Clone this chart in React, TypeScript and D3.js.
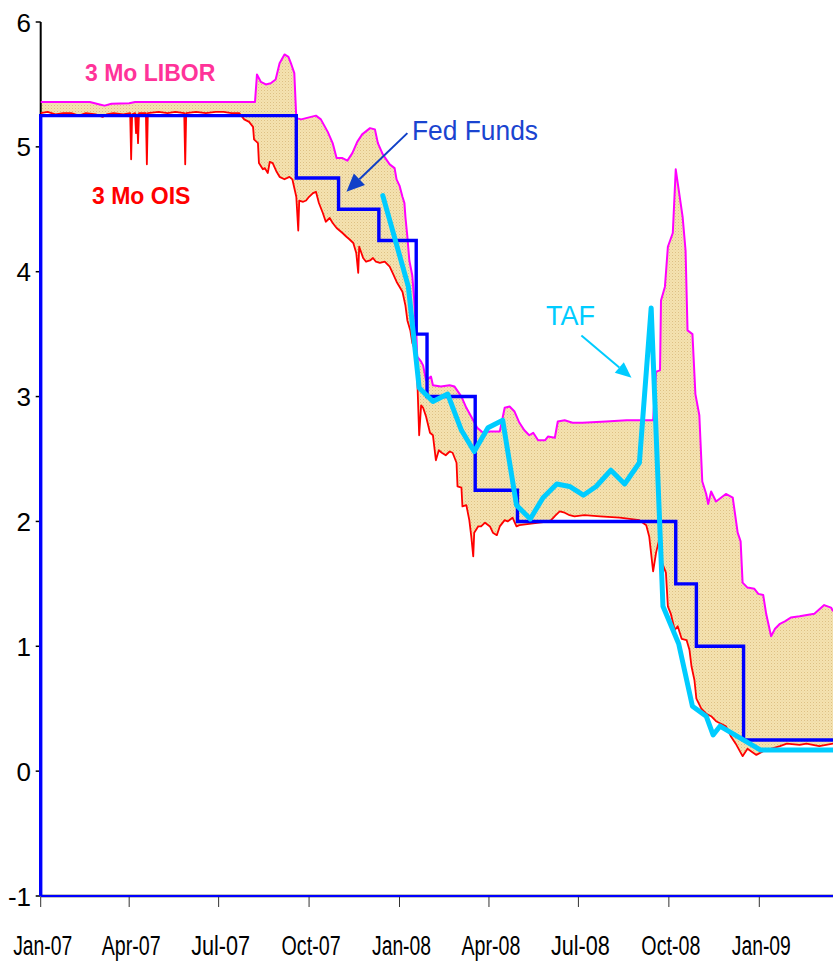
import React from "react";
import * as d3 from "d3";

type P = [string, number];

const liborData: P[] = [
  ["2007-01-01",5.36],["2007-02-20",5.36],["2007-03-02",5.34],["2007-03-07",5.33],["2007-03-14",5.345],["2007-04-01",5.35],["2007-04-07",5.36],["2007-08-07",5.36],
  ["2007-08-09",5.58],["2007-08-13",5.52],["2007-08-18",5.50],["2007-08-23",5.51],["2007-08-28",5.54],["2007-09-01",5.67],["2007-09-06",5.74],["2007-09-10",5.72],["2007-09-13",5.66],["2007-09-16",5.59],
  ["2007-09-18",5.23],["2007-09-23",5.22],["2007-09-28",5.23],["2007-10-08",5.25],["2007-10-13",5.22],["2007-10-20",5.12],["2007-10-25",5.03],["2007-10-29",4.91],["2007-11-04",4.91],["2007-11-09",4.89],
  ["2007-11-14",4.95],["2007-11-19",5.04],["2007-11-24",5.10],["2007-12-02",5.15],["2007-12-07",5.14],["2007-12-10",5.03],["2007-12-15",4.94],["2007-12-22",4.86],["2007-12-27",4.83],["2007-12-29",4.74],
  ["2008-01-01",4.69],["2008-01-04",4.60],["2008-01-06",4.55],["2008-01-07",4.44],["2008-01-09",4.28],["2008-01-11",4.09],["2008-01-14",3.97],["2008-01-16",3.77],["2008-01-18",3.53],["2008-01-19",3.32],
  ["2008-01-23",3.28],["2008-01-25",3.25],["2008-01-28",3.13],["2008-02-02",3.16],["2008-02-04",3.09],["2008-02-12",3.08],["2008-02-21",3.09],["2008-02-26",3.08],["2008-03-04",3.00],["2008-03-09",2.91],
  ["2008-03-16",2.81],["2008-03-20",2.75],["2008-03-26",2.71],["2008-04-02",2.72],["2008-04-12",2.72],["2008-04-17",2.91],["2008-04-22",2.92],["2008-04-27",2.88],["2008-05-02",2.79],["2008-05-07",2.73],
  ["2008-05-12",2.69],["2008-05-16",2.71],["2008-05-21",2.65],["2008-05-28",2.65],["2008-05-31",2.68],["2008-06-07",2.67],["2008-06-10",2.80],["2008-06-17",2.81],["2008-06-25",2.79],["2008-07-05",2.79],
  ["2008-07-29",2.80],["2008-08-19",2.81],["2008-09-15",2.81],["2008-09-18",3.20],["2008-09-22",3.21],["2008-09-23",3.77],["2008-09-27",3.88],["2008-09-30",4.20],["2008-10-05",4.31],["2008-10-08",4.82],
  ["2008-10-15",4.44],["2008-10-18",4.17],["2008-10-20",3.53],["2008-10-25",3.50],["2008-10-28",3.02],["2008-11-01",2.85],["2008-11-04",2.32],["2008-11-08",2.22],["2008-11-10",2.14],["2008-11-13",2.24],
  ["2008-11-18",2.16],["2008-11-28",2.22],["2008-12-05",2.19],["2008-12-10",1.91],["2008-12-13",1.84],["2008-12-15",1.51],["2008-12-20",1.47],["2008-12-27",1.46],["2008-12-31",1.42],["2009-01-05",1.41],
  ["2009-01-08",1.26],["2009-01-13",1.08],["2009-01-17",1.14],["2009-01-22",1.18],["2009-01-27",1.20],["2009-02-02",1.23],["2009-02-11",1.24],["2009-02-26",1.26],["2009-03-08",1.33],["2009-03-15",1.31],["2009-03-17",1.28],
];

const oisData: P[] = [
  ["2007-01-01",5.27],["2007-01-08",5.28],["2007-01-16",5.26],["2007-01-24",5.27],["2007-02-01",5.27],["2007-02-09",5.25],["2007-02-16",5.27],["2007-02-26",5.26],["2007-03-05",5.24],["2007-03-09",5.26],
  ["2007-03-16",5.27],["2007-03-26",5.26],["2007-04-02",5.27],["2007-04-03",4.90],["2007-04-04",5.26],["2007-04-07",5.27],["2007-04-08",5.11],["2007-04-09",5.26],["2007-04-10",5.03],["2007-04-11",5.27],
  ["2007-04-18",5.27],["2007-04-19",4.86],["2007-04-20",5.27],["2007-05-01",5.28],["2007-05-10",5.27],["2007-05-18",5.28],["2007-05-27",5.27],["2007-05-28",4.86],["2007-05-29",5.27],["2007-06-08",5.28],
  ["2007-06-18",5.27],["2007-06-28",5.28],["2007-07-06",5.28],["2007-07-14",5.27],["2007-07-22",5.27],["2007-07-27",5.22],["2007-08-01",5.20],["2007-08-05",5.16],["2007-08-06",5.06],["2007-08-10",5.03],
  ["2007-08-11",4.87],["2007-08-15",4.82],["2007-08-17",4.83],["2007-08-20",4.79],["2007-08-22",4.88],["2007-08-25",4.87],["2007-08-29",4.80],["2007-09-01",4.76],["2007-09-06",4.74],["2007-09-11",4.76],
  ["2007-09-14",4.74],["2007-09-18",4.60],["2007-09-20",4.33],["2007-09-21",4.57],["2007-09-25",4.56],["2007-09-28",4.57],["2007-10-01",4.60],["2007-10-05",4.63],["2007-10-08",4.64],["2007-10-11",4.55],
  ["2007-10-15",4.47],["2007-10-18",4.40],["2007-10-22",4.43],["2007-10-25",4.39],["2007-10-29",4.35],["2007-11-01",4.33],["2007-11-04",4.31],["2007-11-08",4.28],["2007-11-11",4.26],["2007-11-15",4.23],
  ["2007-11-18",4.15],["2007-11-20",3.99],["2007-11-21",4.20],["2007-11-25",4.11],["2007-11-28",4.08],["2007-12-02",4.09],["2007-12-05",4.11],["2007-12-08",4.08],["2007-12-12",4.07],["2007-12-17",4.08],
  ["2007-12-22",4.04],["2007-12-25",3.99],["2007-12-29",3.92],["2008-01-01",3.88],["2008-01-04",3.84],["2008-01-07",3.73],["2008-01-09",3.61],["2008-01-12",3.53],["2008-01-14",3.43],["2008-01-18",3.35],
  ["2008-01-19",3.16],["2008-01-21",2.69],["2008-01-23",2.93],["2008-01-25",2.91],["2008-01-28",2.84],["2008-02-01",2.71],["2008-02-04",2.69],["2008-02-07",2.49],["2008-02-10",2.57],["2008-02-13",2.55],
  ["2008-02-17",2.53],["2008-02-21",2.56],["2008-02-24",2.55],["2008-02-28",2.47],["2008-02-29",2.28],["2008-03-04",2.27],["2008-03-05",2.12],["2008-03-09",2.13],["2008-03-12",2.01],["2008-03-14",1.88],
  ["2008-03-16",1.72],["2008-03-17",1.91],["2008-03-21",1.96],["2008-03-24",1.96],["2008-03-28",1.99],["2008-04-02",1.96],["2008-04-05",1.91],["2008-04-09",1.89],["2008-04-12",1.96],["2008-04-17",2.01],
  ["2008-04-20",2.00],["2008-04-25",2.03],["2008-04-29",1.96],["2008-05-02",1.97],["2008-05-12",1.98],["2008-05-22",1.99],["2008-06-02",2.00],["2008-06-08",2.05],["2008-06-12",2.08],["2008-06-17",2.07],
  ["2008-06-22",2.05],["2008-06-27",2.04],["2008-07-07",2.05],["2008-07-23",2.04],["2008-08-12",2.03],["2008-09-01",2.01],["2008-09-08",1.97],["2008-09-11",1.88],["2008-09-15",1.60],["2008-09-18",1.75],
  ["2008-09-21",1.85],["2008-09-23",1.69],["2008-09-28",1.59],["2008-09-30",1.32],["2008-10-03",1.26],["2008-10-07",1.13],["2008-10-10",1.16],["2008-10-14",1.06],["2008-10-19",1.05],["2008-10-22",0.97],
  ["2008-10-24",0.84],["2008-10-27",0.73],["2008-10-29",0.58],["2008-11-03",0.50],["2008-11-08",0.46],["2008-11-13",0.44],["2008-11-18",0.40],["2008-11-23",0.38],["2008-11-28",0.36],["2008-12-03",0.28],
  ["2008-12-08",0.22],["2008-12-15",0.12],["2008-12-20",0.18],["2008-12-29",0.13],["2009-01-05",0.16],["2009-01-22",0.20],["2009-01-29",0.22],["2009-02-11",0.21],["2009-02-18",0.22],["2009-03-03",0.20],["2009-03-17",0.22],
];

const fedFundsData: P[] = [
  ["2007-01-01",5.25],["2007-09-18",4.75],["2007-10-31",4.5],["2007-12-11",4.25],["2008-01-18",3.5],["2008-01-29",3.0],
  ["2008-03-18",2.25],["2008-04-30",2.0],["2008-10-08",1.5],["2008-10-29",1.0],["2008-12-16",0.25],["2009-03-17",0.25],
];

const tafData: P[] = [
  ["2007-12-15",4.61],["2008-01-10",3.88],["2008-01-21",3.07],["2008-02-04",2.96],["2008-02-19",3.02],["2008-03-04",2.73],
  ["2008-03-17",2.56],["2008-03-31",2.75],["2008-04-15",2.81],["2008-04-29",2.13],["2008-05-13",2.02],["2008-05-26",2.19],
  ["2008-06-09",2.30],["2008-06-22",2.28],["2008-07-06",2.21],["2008-07-19",2.28],["2008-08-03",2.41],["2008-08-17",2.30],
  ["2008-09-01",2.47],["2008-09-13",3.71],["2008-09-25",1.32],["2008-10-11",1.02],["2008-10-25",0.52],["2008-11-08",0.44],
  ["2008-11-15",0.29],["2008-11-22",0.36],["2009-01-02",0.17],["2009-03-17",0.17],
];

const yTicks = [-1, 0, 1, 2, 3, 4, 5, 6];
const xDomain = ["2007-01-01", "2009-01-01"];

const W = 833, H = 963;
const parse = d3.timeParse("%Y-%m-%d");
const fmt = d3.timeFormat("%b-%y");

type D = { t: Date; v: number };
const toD = (a: P[]): D[] => a.map(([s, v]) => ({ t: parse(s) as Date, v }));

function interp(series: D[], t: number): number {
  const i = d3.bisector((d: D) => +d.t).left(series, t);
  if (i <= 0) return series[0].v;
  if (i >= series.length) return series[series.length - 1].v;
  const a = series[i - 1], b = series[i];
  const span = +b.t - +a.t;
  if (span === 0) return b.v;
  return a.v + ((t - +a.t) / span) * (b.v - a.v);
}

function arrowHead(x1: number, y1: number, x2: number, y2: number, len: number, half: number) {
  const dx = x2 - x1, dy = y2 - y1;
  const L = Math.hypot(dx, dy);
  const ux = dx / L, uy = dy / L;
  const bx = x2 - ux * len, by = y2 - uy * len;
  const px = -uy, py = ux;
  return {
    points: `${x2},${y2} ${bx + px * half},${by + py * half} ${bx - px * half},${by - py * half}`,
    bx, by,
  };
}

export default function App() {
  const x = d3.scaleTime().domain(xDomain.map((s) => parse(s) as Date)).range([40.7, 759.3]);
  const y = d3.scaleLinear().domain([-1, 6]).range([896, 22]);

  const libor = toD(liborData);
  const ois = toD(oisData);
  const fed = toD(fedFundsData);
  const taf = toD(tafData);

  const times = Array.from(new Set([...libor, ...ois].map((d) => +d.t))).sort((a, b) => a - b);
  const band = times.map((t) => ({ t, lo: interp(ois, t), hi: interp(libor, t) }));

  const area = d3.area<{ t: number; lo: number; hi: number }>()
    .x((d) => x(new Date(d.t)))
    .y0((d) => y(d.lo))
    .y1((d) => y(d.hi));

  const line = d3.line<D>().x((d) => x(d.t)).y((d) => y(d.v));
  const stepLine = d3.line<D>().x((d) => x(d.t)).y((d) => y(d.v)).curve(d3.curveStepAfter);
  const fedPath = stepLine([{ t: fed[0].t, v: y.domain()[0] }, ...fed]);

  const xTicks = x.ticks(d3.timeMonth.every(3) as any);
  const x0 = x(parse(xDomain[0]) as Date);
  const yBase = y(-1);

  const fedA = { from: [x(parse("2008-01-09") as Date), y(5.11)], to: [x(parse("2007-11-08") as Date), y(4.64)] };
  const tafA = { from: [x(parse("2008-07-04") as Date), y(3.49)], to: [x(parse("2008-08-24") as Date), y(3.15)] };
  const fh = arrowHead(fedA.from[0], fedA.from[1], fedA.to[0], fedA.to[1], 18, 8);
  const th = arrowHead(tafA.from[0], tafA.from[1], tafA.to[0], tafA.to[1], 16, 7);

  return (
    <svg width={W} height={H} style={{ position: "absolute", left: 0, top: 0, background: "#fff" }}
      fontFamily="'Liberation Sans', Arial, sans-serif">
      <defs>
        <pattern id="dots" width="3" height="3" patternUnits="userSpaceOnUse">
          <rect width="3" height="3" fill="#f5e2b0" />
          <rect x="0" y="0" width="1" height="1" fill="#dcc084" />
          <rect x="1.5" y="1.5" width="1" height="1" fill="#e8d29c" />
        </pattern>
      </defs>

      <path d={area(band) || ""} fill="url(#dots)" stroke="none" />

      {/* y axis */}
      <line x1={x0} x2={x0} y1={y(6)} y2={yBase} stroke="#000" strokeWidth={2} />
      {yTicks.map((t) => (
        <g key={t}>
          <line x1={x0 - 5} x2={x0} y1={y(t)} y2={y(t)} stroke="#000" strokeWidth={1.5} />
          <text x={31} y={y(t) + 9.5} textAnchor="end" fontSize={26} fill="#000">{t}</text>
        </g>
      ))}

      {/* x axis */}
      <line x1={x0} x2={W} y1={yBase} y2={yBase} stroke="#888" strokeWidth={3} />
      {xTicks.map((t, i) => (
        <g key={i}>
          <line x1={x(t)} x2={x(t)} y1={yBase + 1} y2={yBase + 11} stroke="#333" strokeWidth={1} />
          <text x={x(t) + 2} y={955} textAnchor="middle" fontSize={27} fill="#000"
            textLength={59} lengthAdjust="spacingAndGlyphs">{fmt(t)}</text>
        </g>
      ))}

      <path d={line(ois) || ""} fill="none" stroke="#ff0000" strokeWidth={1.8} strokeLinejoin="round" />
      <path d={line(libor) || ""} fill="none" stroke="#ff00ff" strokeWidth={2} strokeLinejoin="round" />
      <path d={fedPath || ""} fill="none" stroke="#0000ff" strokeWidth={3.4} />
      <line x1={x0} x2={W} y1={yBase} y2={yBase} stroke="#0000ff" strokeWidth={2} />
      <path d={line(taf) || ""} fill="none" stroke="#00ccff" strokeWidth={5} strokeLinejoin="round" strokeLinecap="round" />

      <text x={85} y={81} fontSize={23} fontWeight="bold" fill="#ff3399">3 Mo LIBOR</text>
      <text x={92} y={204} fontSize={23} fontWeight="bold" fill="#ff0000">3 Mo OIS</text>
      <text x={412} y={140} fontSize={27} fill="#1a44d0" textLength={126} lengthAdjust="spacingAndGlyphs">Fed Funds</text>
      <text x={546} y={325} fontSize={27} fill="#00ccff">TAF</text>

      <line x1={fedA.from[0]} y1={fedA.from[1]} x2={fh.bx} y2={fh.by} stroke="#1040c8" strokeWidth={2} />
      <polygon points={fh.points} fill="#1040c8" />
      <line x1={tafA.from[0]} y1={tafA.from[1]} x2={th.bx} y2={th.by} stroke="#00ccff" strokeWidth={2} />
      <polygon points={th.points} fill="#00ccff" />
    </svg>
  );
}
